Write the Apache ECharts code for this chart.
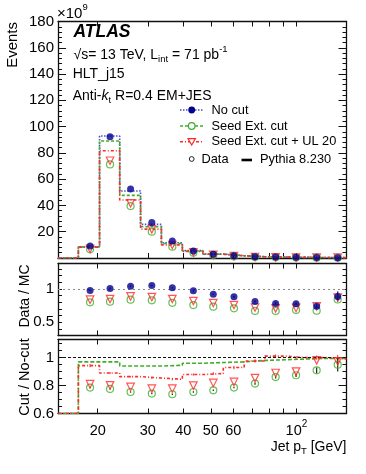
<!DOCTYPE html>
<html>
<head>
<meta charset="utf-8">
<script src="https://cdn.jsdelivr.net/npm/echarts@6/dist/echarts.min.js"></script>
<style>
    html, body { margin: 0; padding: 0; background: #fff; }
    #main { width: 366px; height: 474px; }
</style>
</head>
<body>
<div id="main"></div>
<script>
    // jet pT binning [GeV]
    var xMin = 14.5, xMax = 150;
    var binEdges = [17.1, 20.3, 23.9, 28.3, 33.5, 39.7, 46.9, 55.3, 65.5, 77.5, 91.6, 108.1, 128.1, 150];
    var binCenters = [18.8, 22.1, 26.1, 31.0, 36.6, 43.4, 51.0, 60.3, 71.5, 84.5, 99.7, 117.8, 139.7];
    var xTicks = [20, 30, 40, 50, 60, 70, 80, 90, 100];
    var xLabels = [20, 30, 40, 50, 60, 100];

    // Events (x10^9): MC histograms (Pythia) and data points
    var mcNoCut = [8.6, 92.8, 51.0, 25.6, 11.6, 5.6, 3.0, 1.8, 1.0, 0.7, 0.5, 0.35, 0.25];
    var mcSeed = [8.5, 89.0, 47.7, 23.8, 11.0, 5.3, 2.9, 1.7, 0.95, 0.68, 0.48, 0.34, 0.24];
    var mcSeedUL = [8.3, 81.6, 44.1, 22.0, 10.0, 5.0, 2.8, 1.6, 0.95, 0.68, 0.48, 0.34, 0.24];
    var dataNoCut = [9.1, 92.2, 52.5, 27.1, 12.9, 5.3, 2.8, 1.8, 1.0, 0.7, 0.5, 0.35, 0.25];
    var dataSeed = [6.6, 71.2, 39.5, 20.0, 8.6, 4.0, 2.2, 1.3, 0.7, 0.5, 0.35, 0.25, 0.2];
    var dataSeedUL = [7.0, 74.0, 41.6, 21.8, 9.9, 4.3, 2.4, 1.4, 0.75, 0.52, 0.37, 0.27, 0.21];

    // Data / MC
    var ratioNoCut = [0.975, 1.005, 1.04, 1.05, 1.015, 0.97, 0.92, 0.88, 0.81, 0.78, 0.777, 0.74, 0.885];
    var ratioSeed = [0.797, 0.807, 0.837, 0.827, 0.79, 0.757, 0.733, 0.707, 0.668, 0.668, 0.683, 0.673, 0.84];
    var ratioSeedUL = [0.837, 0.847, 0.886, 0.876, 0.847, 0.817, 0.787, 0.757, 0.72, 0.707, 0.713, 0.737, 0.87];
    var ratioErr = [0.01, 0.01, 0.01, 0.01, 0.01, 0.01, 0.01, 0.015, 0.015, 0.02, 0.02, 0.03, 0.075];

    // Cut / No-cut
    var effMcSeed = [0.97, 0.97, 0.94, 0.94, 0.945, 0.96, 0.965, 0.97, 0.98, 0.985, 0.99, 0.995, 0.995];
    var effMcSeedUL = [0.943, 0.89, 0.864, 0.854, 0.845, 0.879, 0.886, 0.929, 0.976, 1.011, 1.0, 1.0, 0.99];
    var effMcSeedULErr = [0.012, 0.008, 0.006, 0.006, 0.008, 0.008, 0.01, 0.012, 0.012, 0.012, 0.012, 0.015, 0.03];
    var effDataSeed = [0.786, 0.776, 0.754, 0.743, 0.738, 0.754, 0.766, 0.786, 0.814, 0.861, 0.874, 0.909, 0.95];
    var effDataSeedUL = [0.81, 0.802, 0.79, 0.778, 0.778, 0.80, 0.819, 0.826, 0.854, 0.89, 0.9, 0.981, 0.974];
    var effDataErr = [0.005, 0.005, 0.005, 0.005, 0.005, 0.005, 0.005, 0.005, 0.008, 0.01, 0.012, 0.02, 0.05];

    var font = '"Liberation Sans", Arial, Helvetica, sans-serif';
    var blueLine = '#4b4bd6', blueDot = '#000090', green = '#3fae2a', red = '#ff2a2a';
    var frame = {color: '#111', width: 1.3};

    var lg = function (v) {
        return Math.log(v) / Math.LN10;
    };

    // histogram as a step line, starting flat at "lead" from the left edge
    function steps(vals, lead) {
        var d = [[lg(xMin), lead]];
        for (var i = 0; i < vals.length; i++) {
            d.push([lg(binEdges[i]), vals[i]]);
        }
        d.push([lg(binEdges[binEdges.length - 1]), vals[vals.length - 1]]);
        return d;
    }

    function points(vals) {
        return vals.map(function (v, i) {
            return [lg(binCenters[i]), v];
        });
    }

    function xAxisFor(g, pos, showLabels) {
        return {
            type: 'value', gridIndex: g, position: pos, min: lg(xMin), max: lg(xMax),
            axisLine: {show: true, onZero: false, lineStyle: frame},
            axisTick: {show: true, inside: true, length: 5, customValues: xTicks.map(lg), lineStyle: {color: '#111', width: 1}},
            axisLabel: {
                show: showLabels, customValues: xLabels.map(lg), margin: 6,
                formatter: function (v) {
                    var gev = Math.round(Math.pow(10, v));
                    return gev === 100 ? '{n|10}{s|2}' : '{n|' + gev + '}';
                },
                rich: {
                    n: {fontSize: 14.5, fontFamily: font, color: '#000', verticalAlign: 'top', padding: [4, 0, 0, 0]},
                    s: {fontSize: 10, fontFamily: font, color: '#000', verticalAlign: 'top'}
                }
            },
            splitLine: {show: false}
        };
    }

    function yAxisFor(g, pos, min, max, step, minorSplit, labelFn) {
        return {
            type: 'value', gridIndex: g, position: pos, min: min, max: max, interval: step,
            axisLine: {show: true, onZero: false, lineStyle: frame},
            axisTick: {show: true, inside: true, length: minorSplit ? 8 : 4, lineStyle: {color: '#111', width: 1}},
            minorTick: {show: minorSplit > 0, splitNumber: minorSplit || 5, length: 4, lineStyle: {color: '#111', width: 1}},
            axisLabel: {
                show: !!labelFn, formatter: labelFn, margin: 4,
                fontSize: 15, color: '#000', fontFamily: font
            },
            splitLine: {show: false},
            minorSplitLine: {show: false}
        };
    }

    var topLabel = function (v) {
        return v > 0 && v % 20 === 0 ? String(v) : '';
    };
    var midLabel = function (v) {
        if (Math.abs(v - 1) < 1e-6) return '1';
        if (Math.abs(v - 0.5) < 1e-6) return '0.5';
        return '';
    };
    var lowLabel = function (v) {
        var r = Math.round(v * 10) / 10;
        if (Math.abs(v - r) > 1e-6 || r < 0.6 || r > 1) return '';
        return String(r);
    };

    function stepSeries(name, x, y, vals, lead, color, dash) {
        return {
            name: name, type: 'line', xAxisIndex: x, yAxisIndex: y, step: 'end',
            data: steps(vals, lead), symbol: 'none', silent: true, z: 2,
            lineStyle: {color: color, width: 1.6, type: dash}
        };
    }

    function pointSeries(name, x, y, vals, kind) {
        var s = {name: name, type: 'scatter', xAxisIndex: x, yAxisIndex: y, data: points(vals), silent: true, z: 5};
        if (kind === 'dot') {
            s.symbol = 'circle';
            s.symbolSize = 7;
            s.itemStyle = {color: blueDot};
            s.z = 7;
        } else if (kind === 'ring') {
            s.symbol = 'circle';
            s.symbolSize = 7;
            s.itemStyle = {color: 'rgba(0,0,0,0)', borderColor: green, borderWidth: 1.2};
        } else {
            s.symbol = 'triangle';
            s.symbolRotate = 180;
            s.symbolSize = 7.5;
            s.itemStyle = {color: 'rgba(0,0,0,0)', borderColor: red, borderWidth: 1.2};
            s.z = 6;
        }
        return s;
    }

    // vertical error bars at the bin centres
    function errSeries(name, x, y, vals, errs, color, width) {
        return {
            name: name, type: 'custom', xAxisIndex: x, yAxisIndex: y, silent: true, z: 4,
            data: vals.map(function (v, i) {
                return [lg(binCenters[i]), v - errs[i], v + errs[i]];
            }),
            renderItem: function (params, api) {
                var lo = api.coord([api.value(0), api.value(1)]);
                var hi = api.coord([api.value(0), api.value(2)]);
                return {
                    type: 'line', shape: {x1: lo[0], y1: lo[1], x2: hi[0], y2: hi[1]},
                    style: {stroke: color, lineWidth: width}
                };
            }
        };
    }

    function unitLine(color, dash) {
        return {
            silent: true, symbol: ['none', 'none'], label: {show: false},
            lineStyle: {color: color, type: dash, width: 1.2},
            data: [{yAxis: 1}]
        };
    }

    var midNoCut = pointSeries('Data / MC no cut', 1, 1, ratioNoCut, 'dot');
    midNoCut.markLine = unitLine('#888', [2, 3]);
    var effSeedLine = stepSeries('Cut / No-cut seed', 2, 2, effMcSeed, 0.6, green, [4, 2]);
    effSeedLine.markLine = unitLine('#111', [3, 2]);

    function txt(x, y, text, rich, extra) {
        var el = {
            type: 'text', x: x, y: y, z: 100,
            style: {
                text: text, rich: rich, fill: '#000',
                fontSize: 14, fontFamily: font,
                align: 'left', textAlign: 'left', verticalAlign: 'middle', textVerticalAlign: 'middle'
            }
        };
        for (var k in extra) el.style[k] = extra[k];
        return el;
    }

    var supRich = {
        n: {fontSize: 14, fontFamily: font, verticalAlign: 'top', padding: [4, 0, 0, 0]},
        k: {fontSize: 14, fontFamily: font, fontStyle: 'italic', verticalAlign: 'top', padding: [4, 0, 0, 0]},
        sup: {fontSize: 9.5, fontFamily: font, verticalAlign: 'top'},
        sub: {fontSize: 9.5, fontFamily: font, verticalAlign: 'top', padding: [10, 0, 0, 0]},
        big: {fontSize: 15, fontFamily: font, verticalAlign: 'top', padding: [4, 0, 0, 0]}
    };

    var legendRows = [
        {y: 110, text: 'No cut', color: blueLine, dash: [1.5, 1.5]},
        {y: 126, text: 'Seed Ext. cut', color: green, dash: [3, 2]},
        {y: 141.7, text: 'Seed Ext. cut + UL 20', color: red, dash: [3, 2, 1, 2]}
    ];
    var legendEls = [];
    legendRows.forEach(function (r) {
        legendEls.push({
            type: 'line', z: 100, shape: {x1: 180, y1: r.y, x2: 204, y2: r.y},
            style: {stroke: r.color, lineWidth: 1.6, lineDash: r.dash}
        });
        legendEls.push(txt(211.5, r.y, r.text, null, {fontSize: 12.8}));
    });
    legendEls.push({type: 'circle', z: 101, shape: {cx: 191.7, cy: 110, r: 3.4}, style: {fill: blueDot}});
    legendEls.push({type: 'circle', z: 101, shape: {cx: 191.7, cy: 126, r: 3.3}, style: {fill: '#fff', stroke: green, lineWidth: 1.2}});
    legendEls.push({
        type: 'polygon', z: 101, shape: {points: [[188, 138.6], [195.4, 138.6], [191.7, 145]]},
        style: {fill: '#fff', stroke: red, lineWidth: 1.2}
    });
    legendEls.push({type: 'circle', z: 101, shape: {cx: 191.7, cy: 159, r: 2.4}, style: {fill: 'none', stroke: '#222', lineWidth: 1}});
    legendEls.push(txt(201.5, 159, 'Data', null, {fontSize: 12.8}));
    legendEls.push({type: 'line', z: 100, shape: {x1: 241.5, y1: 160, x2: 252, y2: 160}, style: {stroke: '#000', lineWidth: 2.6}});
    legendEls.push(txt(260, 159, 'Pythia 8.230', null, {fontSize: 12.8}));

    var graphics = [
        txt(57, 12, '{big|×10}{sup|9}', supRich),
        txt(73.5, 31.7, 'ATLAS', null, {fontSize: 17.5, fontWeight: 'bold', fontStyle: 'italic'}),
        txt(73.5, 54, '{n|√s= 13 TeV, L}{sub|int}{n| = 71 pb}{sup|-1}', supRich),
        txt(72.7, 74, 'HLT_j15'),
        txt(72.7, 95, '{n|Anti-}{k|k}{sub|t}{n| R=0.4 EM+JES}', supRich),
        txt(346.5, 446, '{n|Jet p}{sub|T}{n| [GeV]}', supRich, {align: 'right', textAlign: 'right'}),
        {
            type: 'text', x: 12.5, y: 22, rotation: Math.PI / 2, z: 100,
            style: {text: 'Events', fontSize: 15, fontFamily: font, fill: '#000', align: 'right', textAlign: 'right', verticalAlign: 'middle', textVerticalAlign: 'middle'}
        },
        {
            type: 'text', x: 25, y: 296, rotation: Math.PI / 2, z: 100,
            style: {text: 'Data / MC', fontSize: 14, fontFamily: font, fill: '#000', align: 'center', textAlign: 'center', verticalAlign: 'middle', textVerticalAlign: 'middle'}
        },
        {
            type: 'text', x: 25, y: 377, rotation: Math.PI / 2, z: 100,
            style: {text: 'Cut / No-cut', fontSize: 14.5, fontFamily: font, fill: '#000', align: 'center', textAlign: 'center', verticalAlign: 'middle', textVerticalAlign: 'middle'}
        }
    ].concat(legendEls);

    var myChart = echarts.init(document.getElementById('main'), null, {renderer: 'canvas'});
    var option = {
        animation: false,
        backgroundColor: '#fff',
        textStyle: {fontFamily: font},
        grid: [
            {left: 58, top: 21.5, width: 288.5, height: 236.5, outerBoundsMode: 'none'},
            {left: 58, top: 263.5, width: 288.5, height: 72, outerBoundsMode: 'none'},
            {left: 58, top: 339.5, width: 288.5, height: 74, outerBoundsMode: 'none'}
        ],
        xAxis: [
            xAxisFor(0, 'bottom', false),
            xAxisFor(1, 'bottom', false),
            xAxisFor(2, 'bottom', true),
            xAxisFor(0, 'top', false),
            xAxisFor(1, 'top', false),
            xAxisFor(2, 'top', false)
        ],
        yAxis: [
            yAxisFor(0, 'left', 0, 180, 20, 5, topLabel),
            yAxisFor(1, 'left', 0.3, 1.38, 0.1, 0, midLabel),
            yAxisFor(2, 'left', 0.6, 1.13, 0.2, 4, lowLabel),
            yAxisFor(0, 'right', 0, 180, 20, 5, null),
            yAxisFor(1, 'right', 0.3, 1.38, 0.1, 0, null),
            yAxisFor(2, 'right', 0.6, 1.13, 0.2, 4, null)
        ],
        series: [
            stepSeries('No cut MC', 0, 0, mcNoCut, 0, blueLine, [1.5, 1.5]),
            stepSeries('Seed Ext. cut MC', 0, 0, mcSeed, 0, green, [3, 2]),
            stepSeries('Seed Ext. cut + UL 20 MC', 0, 0, mcSeedUL, 0, red, [3, 2, 1, 2]),
            pointSeries('Seed Ext. cut', 0, 0, dataSeed, 'ring'),
            pointSeries('Seed Ext. cut + UL 20', 0, 0, dataSeedUL, 'tri'),
            pointSeries('No cut', 0, 0, dataNoCut, 'dot'),

            errSeries('Data / MC err', 1, 1, ratioNoCut, ratioErr, '#1a1a40', 1.3),
            pointSeries('Data / MC seed', 1, 1, ratioSeed, 'ring'),
            pointSeries('Data / MC seed UL', 1, 1, ratioSeedUL, 'tri'),
            midNoCut,

            effSeedLine,
            stepSeries('Cut / No-cut seed UL', 2, 2, effMcSeedUL, 0.6, red, [3, 2, 1, 2]),
            errSeries('Cut / No-cut seed UL err', 2, 2, effMcSeedUL, effMcSeedULErr, red, 1),
            errSeries('Cut / No-cut data err', 2, 2, effDataSeed, effDataErr, '#222', 1.2),
            pointSeries('Cut / No-cut data seed', 2, 2, effDataSeed, 'ring'),
            pointSeries('Cut / No-cut data seed UL', 2, 2, effDataSeedUL, 'tri')
        ],
        graphic: graphics
    };
    myChart.setOption(option);
</script>
</body>
</html>
